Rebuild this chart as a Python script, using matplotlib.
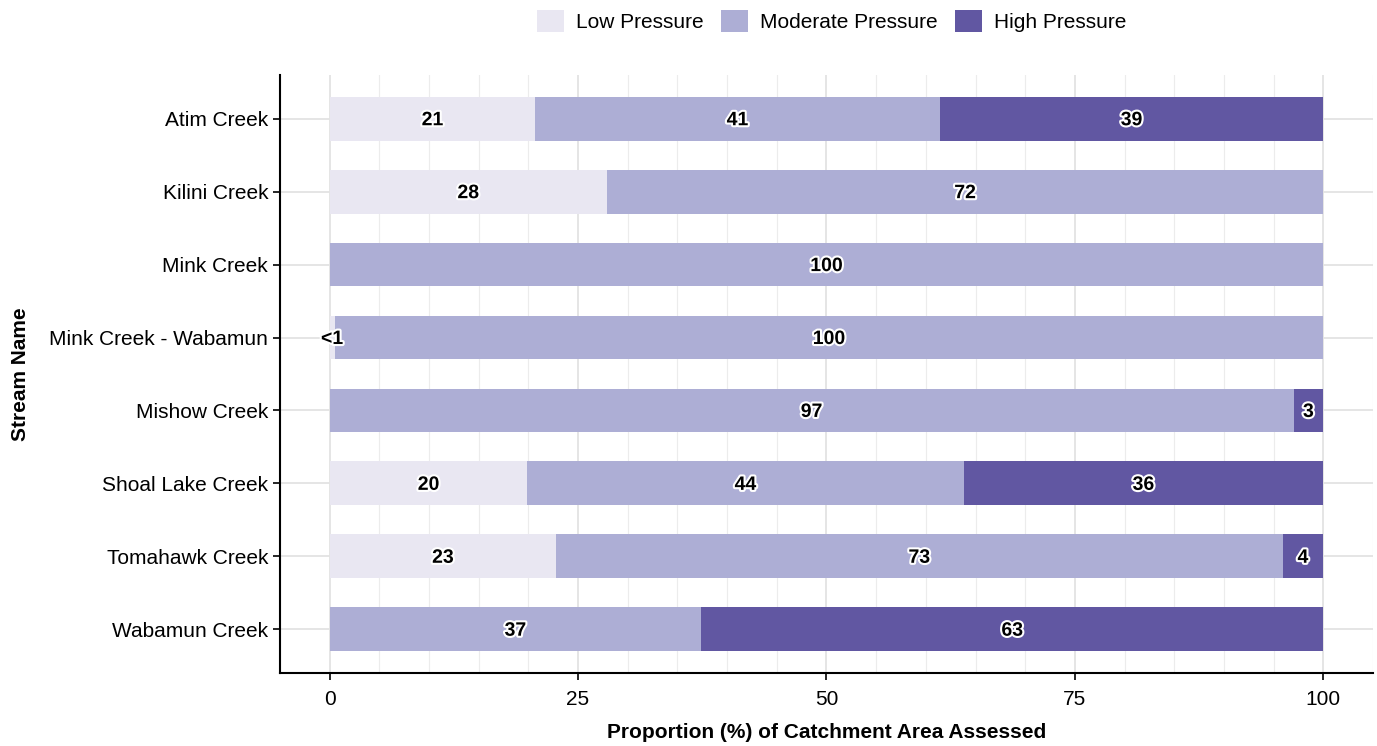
"""
Stacked horizontal bars: proportion of catchment area by pressure class.
"""

import matplotlib.pyplot as plt
import matplotlib.patheffects as pe
from matplotlib.patches import Patch
from matplotlib.ticker import MultipleLocator

plt.rcParams['font.family'] = ['Liberation Sans', 'DejaVu Sans']

# Data (percent of catchment area assessed)
streams = ["Atim Creek", "Kilini Creek", "Mink Creek", "Mink Creek - Wabamun",
           "Mishow Creek", "Shoal Lake Creek", "Tomahawk Creek", "Wabamun Creek"]
low = [20.7, 27.9, 0.0, 0.5, 0.0, 19.9, 22.8, 0.0]
moderate = [40.7, 72.1, 100.0, 99.5, 97.0, 43.9, 73.1, 37.4]
high = [38.6, 0.0, 0.0, 0.0, 3.0, 36.2, 4.1, 62.6]

classes = ["Low Pressure", "Moderate Pressure", "High Pressure"]
colors = ["#e9e7f2", "#adaed5", "#6157a2"]

fig = plt.figure(figsize=(13.77, 7.46), dpi=100)
ax = fig.add_axes([0.2033, 0.0979, 0.7938, 0.8016])

ypos = list(range(len(streams)))[::-1]  # Atim at the top
halo = [pe.withStroke(linewidth=3, foreground="white")]

left = [0.0] * len(streams)
for series, color in zip([low, moderate, high], colors):
    ax.barh(ypos, series, left=left, height=0.6, color=color, zorder=3)
    for y, l, v in zip(ypos, left, series):
        if v <= 0:
            continue
        txt = "<1" if v < 1 else f"{round(v):d}"
        ax.text(l + v / 2, y, txt, ha="center", va="center_baseline", fontsize=14,
                fontweight="bold", color="black", path_effects=halo, zorder=4)
    left = [a + b for a, b in zip(left, series)]

ax.set_xlim(-5, 105)
ax.set_ylim(-0.6, len(streams) - 0.4)
ax.set_yticks(ypos)
ax.set_yticklabels(streams, fontsize=15)
ax.set_xticks([0, 25, 50, 75, 100])
ax.xaxis.set_minor_locator(MultipleLocator(5))
ax.tick_params(axis="x", labelsize=15, length=5, width=1.2, which="major", pad=7)
ax.tick_params(axis="x", which="minor", length=0)
ax.tick_params(axis="y", length=5, width=1.2)

ax.grid(axis="x", which="major", color="#e3e3e3", linewidth=1.3, zorder=0)
ax.grid(axis="x", which="minor", color="#ececec", linewidth=0.8, zorder=0)
ax.grid(axis="y", which="major", color="#e3e3e3", linewidth=1.3, zorder=0)
ax.set_axisbelow(True)

for side in ["top", "right"]:
    ax.spines[side].set_visible(False)
for side in ["left", "bottom"]:
    ax.spines[side].set_linewidth(1.5)

ax.set_xlabel("Proportion (%) of Catchment Area Assessed", fontsize=15,
              fontweight="bold", labelpad=10)
ax.set_ylabel("Stream Name", fontsize=15, fontweight="bold", labelpad=14)

handles = [Patch(facecolor=c, edgecolor="none") for c in colors]
fig.legend(handles, classes, loc="center", bbox_to_anchor=(0.604, 0.972),
           ncol=3, frameon=False, fontsize=15, handlelength=1.3,
           handleheight=1.3, handletextpad=0.6, columnspacing=0.8)

fig.savefig("out.png", dpi=100)
